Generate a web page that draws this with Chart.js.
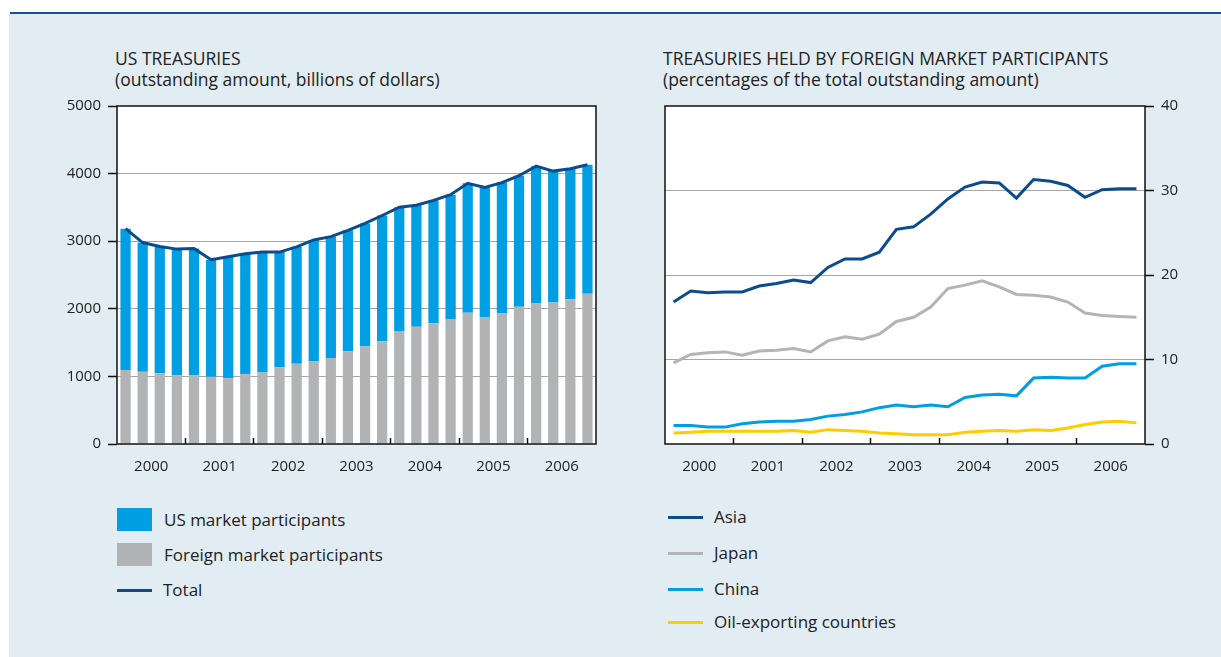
<!DOCTYPE html>
<html>
<head>
<meta charset="utf-8">
<script src="https://cdn.jsdelivr.net/npm/chart.js@4.4.0/dist/chart.umd.min.js"></script>
<style>
  body { margin:0; width:1221px; height:657px; background:#fff; position:relative; overflow:hidden;
         font-family:"Open Sans", sans-serif; color:#222; }
  #topline { position:absolute; left:10px; top:12px; right:0; height:2px; background:#1d4f8f; }
  #panel { position:absolute; left:9px; top:14px; right:0; bottom:0; background:#e1ecf3; }
  .title { position:absolute; top:48px; font-size:17.5px; line-height:21px; white-space:nowrap; }
  .box { position:absolute; width:580px; height:400px; top:90px; }
  .leg { position:absolute; font-size:17px; white-space:nowrap; }
  .leg div { position:absolute; left:0; height:20px; line-height:20px; }
  .sw { position:absolute; }
</style>
</head>
<body>
<div id="topline"></div>
<div id="panel"></div>

<div class="title" style="left:115px">US TREASURIES<br>(outstanding amount, billions of dollars)</div>
<div class="title" style="left:663px">TREASURIES HELD BY FOREIGN MARKET PARTICIPANTS<br>(percentages of the total outstanding amount)</div>

<div class="box" style="left:40px"><canvas id="left"></canvas></div>
<div class="box" style="left:640px"><canvas id="right"></canvas></div>

<div class="leg" id="legL" style="left:117px; top:0"></div>
<div class="leg" id="legR" style="left:668px; top:0"></div>

<script>
// quarterly data, 2000 Q1 - 2006 Q4
var years = ["2000", "2001", "2002", "2003", "2004", "2005", "2006"];

// left: billions of dollars
var foreign = [1096, 1067, 1047, 1018, 1018, 993, 974, 1037, 1057, 1135, 1188, 1227, 1271, 1373,
               1442, 1519, 1670, 1734, 1787, 1841, 1943, 1870, 1929, 2031, 2079, 2094, 2143, 2221];
var usMarket = [2089, 1913, 1875, 1865, 1875, 1734, 1797, 1778, 1782, 1704, 1729, 1792, 1797, 1788,
                1821, 1861, 1832, 1797, 1817, 1846, 1914, 1924, 1938, 1938, 2031, 1943, 1928, 1909];
var total = [3185, 2980, 2922, 2883, 2893, 2727, 2771, 2815, 2839, 2839, 2917, 3019, 3068, 3161,
             3263, 3380, 3502, 3531, 3604, 3687, 3857, 3794, 3867, 3969, 4110, 4037, 4071, 4130];
var leftTicks = [0, 1000, 2000, 3000, 4000, 5000];

// right: percent of total outstanding
var asia = [16.8, 18.1, 17.9, 18.0, 18.0, 18.7, 19.0, 19.4, 19.1, 20.9, 21.9, 21.9, 22.7, 25.4,
            25.7, 27.2, 29.0, 30.4, 31.0, 30.9, 29.1, 31.3, 31.1, 30.6, 29.2, 30.1, 30.2, 30.2];
var japan = [9.6, 10.6, 10.8, 10.9, 10.5, 11.0, 11.1, 11.3, 10.9, 12.2, 12.7, 12.4, 13.0, 14.5,
             15.0, 16.2, 18.4, 18.8, 19.3, 18.6, 17.7, 17.6, 17.4, 16.8, 15.5, 15.2, 15.1, 15.0];
var china = [2.2, 2.2, 2.0, 2.0, 2.4, 2.6, 2.7, 2.7, 2.9, 3.3, 3.5, 3.8, 4.3, 4.6,
             4.4, 4.6, 4.4, 5.5, 5.8, 5.9, 5.7, 7.8, 7.9, 7.8, 7.8, 9.2, 9.5, 9.5];
var oil = [1.3, 1.4, 1.5, 1.5, 1.5, 1.5, 1.5, 1.6, 1.4, 1.7, 1.6, 1.5, 1.3, 1.2,
           1.1, 1.1, 1.1, 1.4, 1.5, 1.6, 1.5, 1.7, 1.6, 1.9, 2.3, 2.6, 2.7, 2.5];
var rightTicks = [0, 10, 20, 30, 40];

var quarters = [];
years.forEach(function(y){ ["Q1","Q2","Q3","Q4"].forEach(function(q){ quarters.push(y + " " + q); }); });

var BLUE = "#009fe3", GREY = "#b2b3b5", NAVY = "#0b4c8c", LGREY = "#b4b4b4", YELLOW = "#ffcc00";

Chart.defaults.font.family = "'Open Sans', sans-serif";
Chart.defaults.font.size = 15;
Chart.defaults.color = "#222";
Chart.defaults.animation = false;

// white plot area + black box round it
var frame = {
  id: "frame",
  beforeDraw: function(c){
    var a = c.chartArea, x = c.ctx;
    x.save(); x.fillStyle = "#fff"; x.fillRect(a.left, a.top, a.right - a.left, a.bottom - a.top); x.restore();
  },
  afterDraw: function(c){
    var a = c.chartArea, x = c.ctx;
    x.save(); x.strokeStyle = "#111"; x.lineWidth = 1.5;
    x.strokeRect(a.left, a.top, a.right - a.left, a.bottom - a.top); x.restore();
  }
};

function xAxis(offsetPx){
  return {
    stacked: true,
    offset: true,
    border: { display: false },
    grid: {
      offset: true, drawOnChartArea: false, tickLength: -6, tickWidth: 1.5,
      tickColor: function(ctx){ return (ctx.index % 4 === 0 && ctx.index > 0 && ctx.index < 28) ? "#111" : "rgba(0,0,0,0)"; }
    },
    ticks: {
      autoSkip: false, maxRotation: 0, padding: 20, labelOffset: offsetPx,
      callback: function(v, i){ return i % 4 === 1 ? years[(i / 4) | 0] : ""; }
    },
    afterFit: function(s){ s.height = 46; }
  };
}

function yAxis(max, pos, width){
  return {
    position: pos,
    min: 0, max: max,
    stacked: pos === "left",
    z: pos === "left" ? 1 : 0,
    border: { display: false },
    afterBuildTicks: function(s){ s.ticks = (pos === "left" ? leftTicks : rightTicks).map(function(v){ return { value: v }; }); },
    grid: {
      tickLength: 9, tickWidth: 1.5, tickColor: "#111", lineWidth: 1,
      color: function(ctx){ var v = ctx.tick && ctx.tick.value; return (v > 0 && v < max) ? "#a6a6a6" : "rgba(0,0,0,0)"; }
    },
    ticks: { padding: 7, callback: function(v){ return String(v); } },
    afterFit: function(s){ s.width = width; }
  };
}

new Chart(document.getElementById("left"), {
  type: "bar",
  data: {
    labels: quarters,
    datasets: [
      { type: "line", label: "Total", data: total, borderColor: NAVY, borderWidth: 3, pointRadius: 0,
        tension: 0, stack: "line", order: 0 },
      { label: "Foreign market participants", data: foreign, backgroundColor: GREY, stack: "bars", order: 1,
        barPercentage: 0.6, categoryPercentage: 1 },
      { label: "US market participants", data: usMarket, backgroundColor: BLUE, stack: "bars", order: 1,
        barPercentage: 0.6, categoryPercentage: 1 }
    ]
  },
  options: {
    responsive: true, maintainAspectRatio: false,
    layout: { padding: { top: 12, right: 24, left: 0, bottom: 0 } },
    plugins: { legend: { display: false }, tooltip: { enabled: false } },
    scales: { x: xAxis(8.55), y: yAxis(5000, "left", 77) }
  },
  plugins: [frame]
});

new Chart(document.getElementById("right"), {
  type: "line",
  data: {
    labels: quarters,
    datasets: [
      { label: "Asia", data: asia, borderColor: NAVY },
      { label: "Japan", data: japan, borderColor: LGREY },
      { label: "China", data: china, borderColor: BLUE },
      { label: "Oil-exporting countries", data: oil, borderColor: YELLOW }
    ].map(function(d){ d.borderWidth = 3; d.pointRadius = 0; d.tension = 0; return d; })
  },
  options: {
    responsive: true, maintainAspectRatio: false,
    layout: { padding: { top: 12, right: 0, left: 25, bottom: 0 } },
    plugins: { legend: { display: false }, tooltip: { enabled: false } },
    scales: { x: xAxis(8.57), y: yAxis(40, "right", 75) }
  },
  plugins: [frame]
});

// legends
function addRow(el, top, label, color, kind){
  var sw = document.createElement("span");
  sw.className = "sw";
  if (kind === "box") { sw.style.cssText = "left:0;top:" + (top - 12) + "px;width:35px;height:23px;background:" + color; }
  else { sw.style.cssText = "left:0;top:" + (top - 1.5) + "px;width:35px;height:3px;background:" + color; }
  el.appendChild(sw);
  var t = document.createElement("div");
  t.textContent = label;
  t.style.left = (kind === "box" ? 47 : 46) + "px";
  t.style.top = (top - 10) + "px";
  el.appendChild(t);
}
var legL = document.getElementById("legL"), legR = document.getElementById("legR");
addRow(legL, 520, "US market participants", BLUE, "box");
addRow(legL, 555, "Foreign market participants", GREY, "box");
addRow(legL, 590, "Total", NAVY, "line");
addRow(legR, 517, "Asia", NAVY, "line");
addRow(legR, 553, "Japan", LGREY, "line");
addRow(legR, 589, "China", BLUE, "line");
addRow(legR, 622, "Oil-exporting countries", YELLOW, "line");
</script>
</body>
</html>
